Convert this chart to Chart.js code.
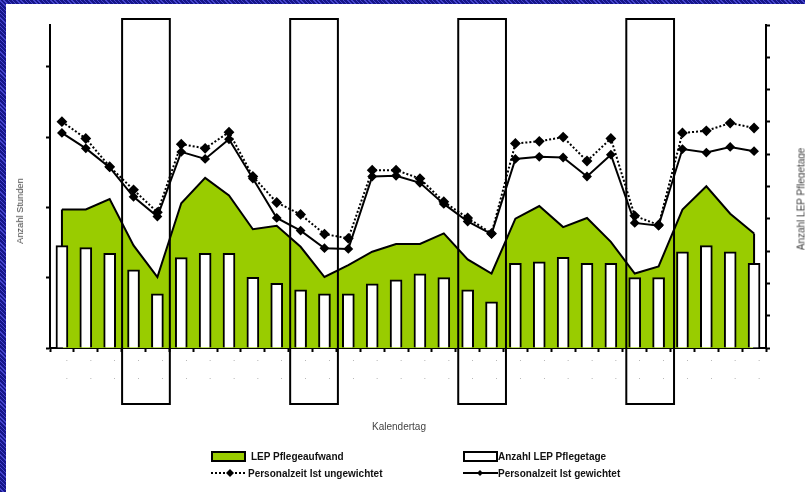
<!DOCTYPE html>
<html lang="de">
<head>
    <meta charset="UTF-8">
    <title>LEP Pflegeaufwand und Personalzeit</title>
    <script src="https://cdn.jsdelivr.net/npm/chart.js"></script>
    <style>
        html, body {
            margin: 0;
            padding: 0;
        }
        body {
            width: 805px;
            height: 492px;
            overflow: hidden;
            position: relative;
            background: repeating-linear-gradient(45deg, #16168a 0 2px, #4444cc 2px 3px);
            font-family: 'Liberation Sans', Arial, sans-serif;
        }
        .panel {
            position: absolute;
            left: 6px;
            top: 4px;
            right: 0;
            bottom: 0;
            background: #fff;
        }
        #chartBox {
            position: absolute;
            left: 0;
            top: 0;
            width: 805px;
            height: 440px;
        }
        .axis-title {
            position: absolute;
            font-size: 10px;
            color: #444;
            white-space: nowrap;
            transform: translate(-50%, -50%);
        }
        .rot {
            transform: translate(-50%, -50%) rotate(-90deg);
        }
        .legend-item {
            position: absolute;
            display: flex;
            align-items: center;
            font-size: 10px;
            font-weight: bold;
            color: #111;
            white-space: nowrap;
        }
        .swatch {
            width: 31px;
            height: 7px;
            border: 2px solid #000;
            margin-right: 5px;
        }
    </style>
</head>
<body>
    <div class="panel"></div>
    <div id="chartBox"><canvas id="pflegeChart"></canvas></div>

    <div class="axis-title rot" style="left:20px; top:211px; font-size:9.3px;">Anzahl Stunden</div>
    <div class="axis-title rot" style="left:801px; top:199px;">Anzahl LEP Pflegetage</div>
    <div class="axis-title" style="left:399px; top:426px;">Kalendertag</div>

    <div class="legend-item" style="left:211px; top:451px;">
        <span class="swatch" style="background:#99cc00;"></span>LEP Pflegeaufwand
    </div>
    <div class="legend-item" style="left:463px; top:451px;">
        <span class="swatch" style="background:#fff; margin-right:0;"></span>Anzahl LEP Pflegetage
    </div>
    <div class="legend-item" style="left:210px; top:467px;">
        <svg width="36" height="12" style="margin-right:2px;">
            <line x1="1" y1="6" x2="35" y2="6" stroke="#000" stroke-width="2" stroke-dasharray="2 2"/>
            <polygon points="20,2 24,6 20,10 16,6" fill="#000"/>
        </svg>Personalzeit Ist ungewichtet
    </div>
    <div class="legend-item" style="left:463px; top:467px;">
        <svg width="35" height="12">
            <line x1="0" y1="6" x2="35" y2="6" stroke="#000" stroke-width="2"/>
            <polygon points="17,3 20,6 17,9 14,6" fill="#000"/>
        </svg>Personalzeit Ist gewichtet
    </div>

    <script>
        // Kalendertage 1..30, Wochenenden als Index-Paare
        const kalendertage = [1, 2, 3, 4, 5, 6, 7, 8, 9, 10, 11, 12, 13, 14, 15,
                              16, 17, 18, 19, 20, 21, 22, 23, 24, 25, 26, 27, 28, 29, 30];
        const tickLabel = ['.', '.'];
        const wochenenden = [[3, 4], [10, 11], [17, 18], [24, 25]];

        // Stunden (linke Achse)
        const pflegeaufwand = [197, 197, 212, 146, 101, 206, 242, 217, 169, 174,
                               144, 101, 118, 137, 148, 148, 163, 126, 106, 184,
                               202, 172, 185, 151, 106, 116, 197, 230, 191, 163];
        const zeitUngewichtet = [322, 298, 258, 225, 193, 290, 284, 307, 244, 207,
                                 190, 162, 156, 253, 253, 241, 208, 185, 163, 291,
                                 294, 300, 266, 298, 188, 175, 306, 309, 320, 313];
        const zeitGewichtet = [306, 284, 257, 215, 187, 279, 269, 297, 241, 185,
                               167, 142, 141, 244, 245, 235, 205, 180, 162, 269,
                               272, 271, 244, 275, 178, 174, 283, 278, 286, 280];

        // Pflegetage (rechte Achse)
        const pflegetage = [31.7, 31.1, 29.3, 24.2, 16.8, 28.0, 29.3, 29.3, 21.9, 20.0,
                            18.0, 16.8, 16.8, 19.9, 21.1, 23.0, 21.8, 18.0, 14.3, 26.2,
                            26.7, 28.1, 26.2, 26.2, 21.8, 21.8, 29.8, 31.7, 29.8, 26.2];

        const stundenMax = 459.5;
        const tageMax = 100;

        const fontFamily = "'Liberation Sans', Arial, sans-serif";

        // Rahmen um die Wochenenden
        const weekendBoxes = {
            id: 'weekendBoxes',
            afterDraw(chart) {
                const {ctx, chartArea, scales: {x}} = chart;
                const half = (x.getPixelForValue(1) - x.getPixelForValue(0)) / 2;
                ctx.save();
                ctx.strokeStyle = '#000';
                ctx.lineWidth = 2;
                wochenenden.forEach(([a, b], i) => {
                    const shift = 0.5 + i;
                    const left = x.getPixelForValue(a) - half + shift;
                    const right = x.getPixelForValue(b) + half + shift;
                    ctx.strokeRect(left, chartArea.top - 6, right - left,
                        chartArea.bottom - chartArea.top + 62);
                });
                ctx.restore();
            }
        };

        // senkrechte Kanten der Flaeche
        const areaEdges = {
            id: 'areaEdges',
            afterDatasetDraw(chart, args) {
                if (args.index !== 0) return;
                const pts = args.meta.data;
                const base = chart.scales.y.getPixelForValue(0);
                const ctx = chart.ctx;
                ctx.save();
                ctx.strokeStyle = '#000';
                ctx.lineWidth = 2;
                ctx.beginPath();
                [pts[0], pts[pts.length - 1]].forEach(p => {
                    ctx.moveTo(p.x, p.y);
                    ctx.lineTo(p.x, base);
                });
                ctx.stroke();
                ctx.restore();
            }
        };

        const axisGrid = {
            display: true,
            drawOnChartArea: false,
            drawTicks: true,
            tickLength: 4,
            tickColor: '#000',
            tickWidth: 2
        };

        new Chart(document.getElementById('pflegeChart'), {
            type: 'bar',
            data: {
                labels: kalendertage,
                datasets: [
                    {
                        type: 'line',
                        label: 'LEP Pflegeaufwand',
                        data: pflegeaufwand,
                        yAxisID: 'y',
                        fill: 'origin',
                        backgroundColor: '#99cc00',
                        borderColor: '#000',
                        borderWidth: 2,
                        pointRadius: 0,
                        tension: 0,
                        order: 3
                    },
                    {
                        label: 'Anzahl LEP Pflegetage',
                        data: pflegetage,
                        yAxisID: 'y2',
                        backgroundColor: '#fff',
                        borderColor: '#000',
                        borderWidth: 2,
                        barThickness: 12,
                        order: 2
                    },
                    {
                        type: 'line',
                        label: 'Personalzeit Ist ungewichtet',
                        data: zeitUngewichtet,
                        yAxisID: 'y',
                        fill: false,
                        borderColor: '#000',
                        borderWidth: 2,
                        borderDash: [2, 2],
                        pointStyle: 'rectRot',
                        pointRadius: 4,
                        pointBackgroundColor: '#000',
                        pointBorderColor: '#000',
                        tension: 0,
                        order: 1
                    },
                    {
                        type: 'line',
                        label: 'Personalzeit Ist gewichtet',
                        data: zeitGewichtet,
                        yAxisID: 'y',
                        fill: false,
                        borderColor: '#000',
                        borderWidth: 2,
                        pointStyle: 'rectRot',
                        pointRadius: 3.5,
                        pointBackgroundColor: '#000',
                        pointBorderColor: '#000',
                        tension: 0,
                        order: 0
                    }
                ]
            },
            options: {
                responsive: true,
                maintainAspectRatio: false,
                animation: false,
                layout: {
                    padding: {left: 0, right: 0, top: 25, bottom: 0}
                },
                plugins: {
                    legend: {display: false},
                    tooltip: {enabled: false}
                },
                scales: {
                    x: {
                        grid: {...axisGrid, offset: true},
                        border: {display: true, color: '#000', width: 2},
                        ticks: {
                            autoSkip: false,
                            maxRotation: 0,
                            padding: -2,
                            labelOffset: 5,
                            color: '#888',
                            font: {family: fontFamily, size: 8, lineHeight: '18px'},
                            callback: () => tickLabel
                        },
                        afterFit: scale => { scale.height = 92; }
                    },
                    y: {
                        position: 'left',
                        min: 0,
                        max: stundenMax,
                        grid: axisGrid,
                        border: {display: true, color: '#000', width: 2},
                        ticks: {display: false, stepSize: 100, includeBounds: false},
                        afterFit: scale => { scale.width = 50; }
                    },
                    y2: {
                        position: 'right',
                        min: 0,
                        max: tageMax,
                        grid: axisGrid,
                        border: {display: true, color: '#000', width: 2},
                        ticks: {display: false, stepSize: 10},
                        afterFit: scale => { scale.width = 39; }
                    }
                }
            },
            plugins: [areaEdges, weekendBoxes]
        });
    </script>
</body>
</html>
